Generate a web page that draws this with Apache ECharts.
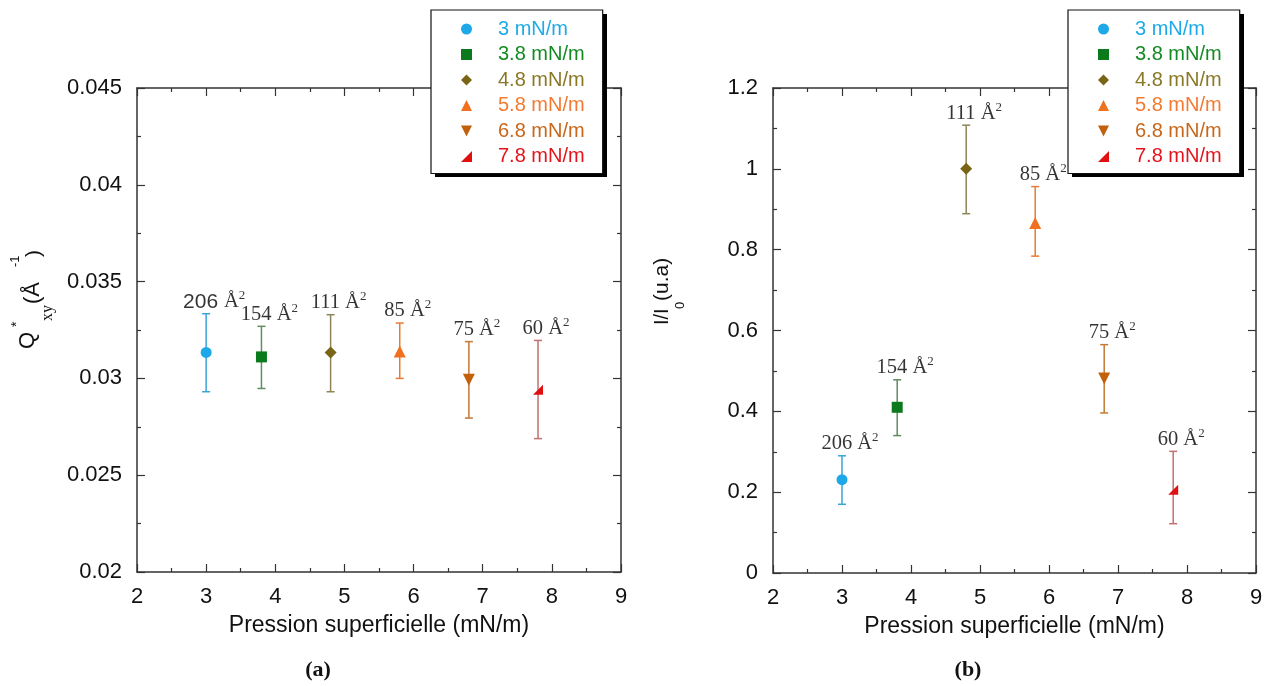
<!DOCTYPE html>
<html>
<head>
<meta charset="utf-8">
<script src="https://cdn.jsdelivr.net/npm/echarts@6/dist/echarts.min.js"></script>
<style>
  html, body { margin: 0; padding: 0; background: #ffffff; }
  #chart { width: 1274px; height: 686px; }
</style>
</head>
<body>
<div id="chart"></div>
<script>
// ---------------- data ----------------
const pressures = [3, 3.8, 4.8, 5.8, 6.8, 7.8];
const seriesNames = ['3 mN/m', '3.8 mN/m', '4.8 mN/m', '5.8 mN/m', '6.8 mN/m', '7.8 mN/m'];
const areaLabels = ['206', '154', '111', '85', '75', '60'];

const qxyValues = [0.03134, 0.03111, 0.03134, 0.03139, 0.02993, 0.02942];
const qxyLow    = [0.02931, 0.02948, 0.02931, 0.03000, 0.02795, 0.02689];
const qxyHigh   = [0.03334, 0.03269, 0.03329, 0.03286, 0.03190, 0.03196];

const intensityValues = [0.231, 0.410, 1.000, 0.866, 0.481, 0.206];
const intensityLow    = [0.170, 0.340, 0.889, 0.784, 0.396, 0.122];
const intensityHigh   = [0.290, 0.478, 1.108, 0.956, 0.565, 0.301];

const xAxisTitle = 'Pression superficielle (mN/m)';
const panelCaptions = ['(a)', '(b)'];

// ---------------- styles ----------------
const SANS = '"Liberation Sans", Arial, sans-serif';
const SERIF = '"Liberation Serif", "Times New Roman", serif';
const markerColors = ['#1ea8e8', '#0b7a1c', '#7a6416', '#f07020', '#c2600c', '#e01010'];
const textColors   = ['#1eaae6', '#138a22', '#8a7826', '#f37a30', '#c8671a', '#e3141a'];
const barColors    = ['#3aa4d6', '#5f8d5f', '#8d8558', '#ea7a32', '#c27a34', '#c27070'];
const symbols = ['circle', 'rect', 'diamond', 'triangle', 'path://M0,0 L10,0 L5,10 Z', 'path://M10,0 L10,10 L0,10 Z'];
const symbolSizes = [11, 11, 12, 12, 12, 10];

const chart = echarts.init(document.getElementById('chart'), null, { renderer: 'canvas' });

const axisLineStyle = { color: '#333', width: 1.5 };
function makeX(grid, pos, show) {
  return {
    type: 'value', gridIndex: grid, position: pos, min: 2, max: 9, interval: 1,
    axisLine: { show: true, lineStyle: axisLineStyle, onZero: false },
    axisTick: { show: true, inside: true, length: 8, lineStyle: { color: '#333', width: 1.2 } },
    minorTick: { show: true, splitNumber: 2, length: 4, lineStyle: { color: '#333', width: 1.2 } },
    splitLine: { show: false },
    axisLabel: { show: show, fontFamily: SANS, fontSize: 22, color: '#111', margin: 14 },
    name: show ? xAxisTitle : '', nameLocation: 'middle', nameGap: 42,
    nameTextStyle: { fontFamily: SANS, fontSize: 23, color: '#111' }
  };
}
function makeY(grid, pos, show, min, max, interval) {
  return {
    type: 'value', gridIndex: grid, position: pos, min: min, max: max, interval: interval,
    axisLine: { show: true, lineStyle: axisLineStyle, onZero: false },
    axisTick: { show: true, inside: true, length: 8, lineStyle: { color: '#333', width: 1.2 } },
    minorTick: { show: true, splitNumber: 2, length: 4, lineStyle: { color: '#333', width: 1.2 } },
    splitLine: { show: false },
    axisLabel: { show: show, fontFamily: SANS, fontSize: 22, color: '#111', margin: 15 }
  };
}

const series = [];
function addPanel(xIdx, yIdx, values, low, high, panel) {
  // error bars
  series.push({
    type: 'custom', xAxisIndex: xIdx, yAxisIndex: yIdx, z: 2, silent: true,
    data: pressures.map((p, i) => [p, low[i], high[i]]),
    renderItem: function (params, api) {
      const b = api.coord([api.value(0), api.value(1)]);
      const t = api.coord([api.value(0), api.value(2)]);
      const c = barColors[params.dataIndex];
      const cap = 4;
      const st = { stroke: c, lineWidth: 1.5 };
      return {
        type: 'group',
        children: [
          { type: 'line', shape: { x1: b[0], y1: b[1], x2: t[0], y2: t[1] }, style: st },
          { type: 'line', shape: { x1: t[0] - cap, y1: t[1], x2: t[0] + cap, y2: t[1] }, style: st },
          { type: 'line', shape: { x1: b[0] - cap, y1: b[1], x2: b[0] + cap, y2: b[1] }, style: st }
        ]
      };
    }
  });
  // markers
  pressures.forEach((p, i) => {
    series.push({
      type: 'scatter', name: seriesNames[i], xAxisIndex: xIdx, yAxisIndex: yIdx, z: 3,
      symbol: symbols[i], symbolSize: symbolSizes[i],
      itemStyle: { color: markerColors[i], opacity: 1 },
      data: [[p, values[i]]]
    });
  });
  // area labels
  series.push({
    type: 'scatter', xAxisIndex: xIdx, yAxisIndex: yIdx, z: 4, silent: true,
    symbolSize: 1, itemStyle: { color: 'rgba(0,0,0,0)' },
    data: pressures.map((p, i) => [p, high[i], areaLabels[i]]),
    label: {
      show: true, position: 'top', distance: 1, offset: [8, 0],
      formatter: function (params) {
        const txt = params.value[2];
        if (panel === 0 && params.dataIndex === 0) return '{ns|' + txt + ' }{n|Å}{s|2}';
        return '{n|' + txt + ' Å}{s|2}';
      },
      rich: {
        n: { fontFamily: SERIF, fontSize: 20.5, color: '#000', lineHeight: 23, verticalAlign: 'bottom' },
        ns: { fontFamily: SANS, fontSize: 21, color: '#000', lineHeight: 23, verticalAlign: 'bottom' },
        s: { fontFamily: SERIF, fontSize: 13, color: '#000', lineHeight: 13, verticalAlign: 'top' }
      }
    }
  });
}
addPanel(0, 0, qxyValues, qxyLow, qxyHigh, 0);
addPanel(2, 2, intensityValues, intensityLow, intensityHigh, 1);

function makeLegend(left) {
  return {
    orient: 'vertical', left: left, top: 10, z: 10,
    padding: [9, 18, 7, 30], itemGap: 5.5, itemWidth: 11, itemHeight: 11,
    backgroundColor: '#ffffff', borderColor: '#111', borderWidth: 1.2,
    selectedMode: false,
    textStyle: { fontFamily: SANS, fontSize: 20, lineHeight: 20, padding: [0, 0, 0, 21] },
    data: seriesNames.map((n, i) => ({ name: n, textStyle: { color: textColors[i] } }))
  };
}

function rotText(text, x, y, size, family) {
  return {
    type: 'text', x: x, y: y, rotation: Math.PI / 2,
    style: { text: text, fontFamily: family || SANS, fontSize: size, fill: '#111', align: 'left', verticalAlign: 'middle' }
  };
}
function legendShadow(x) {
  return { type: 'rect', z: 9, shape: { x: x + 4, y: 14, width: 172, height: 163 }, style: { fill: '#000' }, silent: true };
}

const option = {
  backgroundColor: '#ffffff',
  animation: false,
  grid: [
    { left: 137, top: 88, width: 484, height: 484 },
    { left: 773, top: 88, width: 483, height: 485 }
  ],
  xAxis: [makeX(0, 'bottom', true), makeX(0, 'top', false), makeX(1, 'bottom', true), makeX(1, 'top', false)],
  yAxis: [
    makeY(0, 'left', true, 0.02, 0.045, 0.005), makeY(0, 'right', false, 0.02, 0.045, 0.005),
    makeY(1, 'left', true, 0, 1.2, 0.2), makeY(1, 'right', false, 0, 1.2, 0.2)
  ],
  legend: [makeLegend(431), makeLegend(1068)],
  series: series,
  graphic: [
    legendShadow(431),
    legendShadow(1068),
    // left y title: Q*xy (Å-1)
    rotText('Q', 28, 349, 22),
    rotText('*', 17, 327, 14),
    rotText('xy', 48, 321, 16, SERIF),
    rotText('(Å', 33, 304, 22),
    rotText('-1', 15, 267, 13),
    rotText(')', 34, 257, 21),
    // right y title: I/I0 (u.a)
    rotText('I/I', 662, 325, 20),
    rotText('0', 680, 309, 13),
    rotText('(u.a)', 662, 301, 21),
    // captions
    { type: 'text', x: 318, y: 670, style: { text: panelCaptions[0], fontFamily: SERIF, fontWeight: 'bold', fontSize: 22, fill: '#111', align: 'center', verticalAlign: 'middle' } },
    { type: 'text', x: 968, y: 670, style: { text: panelCaptions[1], fontFamily: SERIF, fontWeight: 'bold', fontSize: 22, fill: '#111', align: 'center', verticalAlign: 'middle' } }
  ]
};
chart.setOption(option);
</script>
</body>
</html>
